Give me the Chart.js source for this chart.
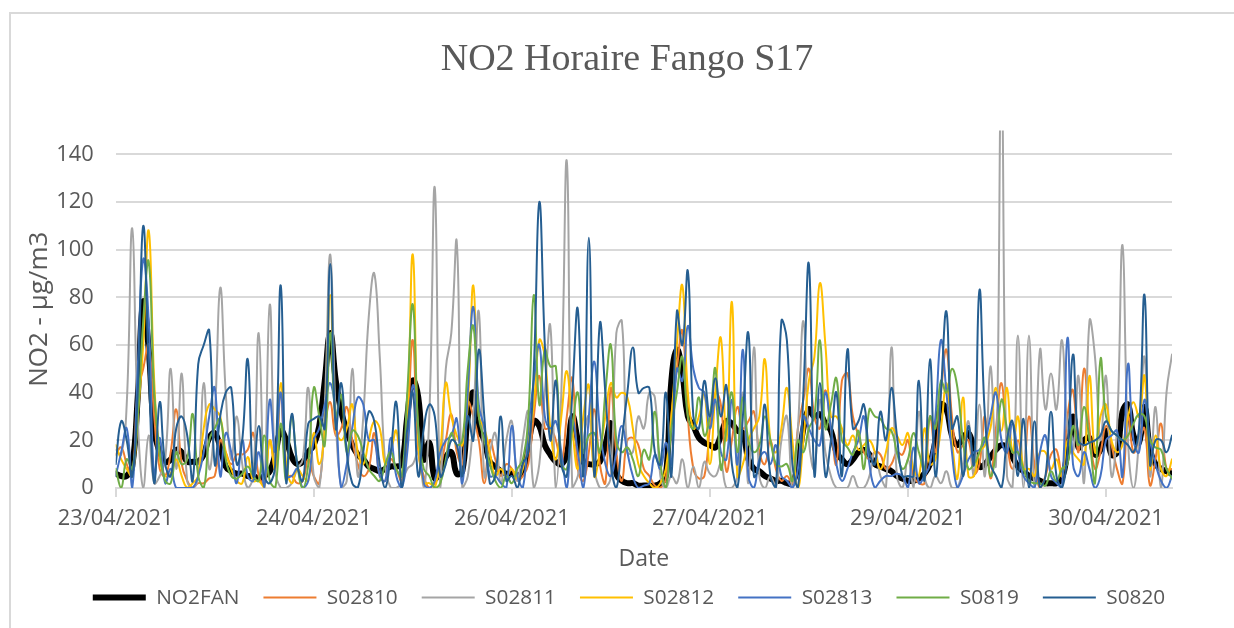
<!DOCTYPE html>
<html><head><meta charset="utf-8">
<style>
html,body{margin:0;padding:0;background:#fff;overflow:hidden}
#wrap{position:absolute;left:0;top:0;width:1234px;height:628px;overflow:hidden}
#frame{position:absolute;left:9px;top:12px;width:1300px;height:700px;border:2px solid #d9d9d9;box-sizing:border-box}
canvas{position:absolute;left:0;top:0}
</style>
<script src="https://cdn.jsdelivr.net/npm/chart.js@4"></script>
</head><body>
<div id="wrap"><div id="frame"></div><canvas id="c" width="1234" height="628"></canvas></div>
<script>
const days = ['23/04/2021','24/04/2021','25/04/2021','26/04/2021','27/04/2021','28/04/2021','29/04/2021','30/04/2021'];
const lastCategory = '01/05/2021 00:00';
const tickEvery = 36;
const yTicks = [0,20,40,60,80,100,120,140];
const NO2FAN = [
6,5,5,9,38,78,58,24,15,11,12,16,
15,11,11,11,14,21,23,17,9,7,6,6,
5,5,4,5,7,14,24,20,13,10,11,15,
18,26,45,65,45,32,24,18,14,12,9,8,
7,8,9,9,10,30,45,38,12,19,4,8,
13,15,6,7,30,40,25,20,11,9,7,6,
6,5,7,18,28,26,18,14,11,10,14,30,
20,11,10,10,11,18,27,6,3,2,2,1,
1,1,1,2,5,45,58,48,30,26,21,19,18,
17,22,28,27,24,23,12,8,7,5,4,3,
3,2,2,10,25,33,30,31,27,24,15,12,
10,12,15,16,14,10,9,8,7,5,4,3,
3,4,6,10,20,35,33,22,18,21,23,16,
9,10,13,16,18,17,13,9,7,5,4,3,
2,2,2,4,15,30,17,20,21,14,16,24,
14,15,32,35,22,19,34,16,10,8,7,6];
const S02810 = [
14,17,10,5,40,50,60,30,8,5,15,33,
10,3,0,2,2,4,5,20,15,10,14,14,
16,23,5,2,20,8,40,5,5,2,3,12,
5,2,25,36,22,25,34,20,10,5,8,23,
5,3,12,8,3,25,62,15,5,0,2,8,
20,31,15,10,36,30,20,2,20,12,5,10,
8,3,5,10,30,47,25,25,20,10,30,46,
8,3,15,33,10,2,42,15,3,20,21,18,
8,5,1,0,4,30,50,66,30,8,4,5,25,
40,35,7,20,34,25,28,32,15,10,20,8,
3,5,2,25,37,50,30,25,41,25,10,45,
48,30,22,15,12,15,14,8,10,15,14,20,
5,2,2,30,15,40,58,30,15,18,20,6,
10,30,4,25,44,20,8,20,8,30,10,0,
5,14,16,5,30,41,15,50,25,8,15,26,
18,8,2,30,15,20,25,1,12,27,8,8];
const S02811 = [
16,14,35,109,30,0,22,2,5,12,50,8,
48,3,0,5,44,8,30,84,40,12,30,10,
0,5,65,2,77,8,0,0,2,8,12,42,
5,0,35,98,30,0,3,50,5,30,72,90,
55,10,0,0,2,8,10,15,0,30,126,0,
50,65,103,0,5,30,74,5,15,23,2,20,
28,3,20,32,0,10,40,68,0,40,137,0,
5,20,30,8,0,0,5,65,70,15,15,30,
25,40,38,5,0,5,2,12,0,9,0,11,6,
5,10,0,0,5,40,2,59,5,0,5,0,
20,30,0,25,70,20,8,37,15,5,0,0,
0,5,0,0,5,15,5,0,59,5,0,12,
0,32,5,0,5,2,7,0,0,10,28,5,
35,5,51,10,175,5,0,64,0,64,0,58,
33,48,33,62,25,15,47,2,70,55,20,47,
5,25,102,20,0,20,55,5,34,0,40,56];
const S02812 = [
18,12,8,5,30,60,108,45,13,5,6,12,
5,0,2,5,25,35,33,30,15,8,3,2,
13,3,3,0,20,8,44,10,2,8,5,3,
23,10,25,81,25,20,25,35,15,10,20,28,
25,10,15,24,5,30,98,20,2,2,0,15,
44,30,22,18,35,85,30,25,15,5,8,5,
8,4,8,20,35,62,55,25,12,30,49,25,
8,30,43,5,15,30,44,38,40,38,25,10,
5,2,0,2,8,30,60,85,40,25,30,40,10,
40,63,20,78,5,10,20,25,30,54,20,15,
25,42,20,0,20,45,55,86,60,30,30,25,
18,22,16,18,20,15,8,15,25,22,18,23,
8,5,25,10,12,25,44,20,4,38,5,5,
15,18,25,42,24,42,15,30,8,8,5,15,
15,8,12,5,20,15,12,10,47,15,30,35,
20,15,18,30,36,30,47,8,22,8,5,12];
const S02813 = [
5,15,25,0,50,96,70,5,21,2,8,0,
0,0,0,5,15,30,42,5,23,15,2,20,
5,3,15,0,37,15,40,5,5,8,0,3,
20,25,35,44,30,0,10,25,38,35,20,20,
5,3,21,5,0,15,43,25,2,0,3,15,
20,22,29,2,40,76,35,25,5,5,2,0,
26,5,0,25,45,60,30,25,28,15,0,28,
15,0,30,53,25,10,5,15,26,15,5,0,
1,2,14,8,19,10,50,45,68,50,42,40,25,
37,15,12,37,10,58,5,0,12,15,10,18,
5,3,0,8,30,25,20,18,40,25,10,3,
8,15,20,30,10,0,3,5,5,6,5,0,
17,2,5,10,30,62,40,15,0,5,12,15,
16,20,30,40,20,15,27,15,5,2,0,15,
22,5,2,0,63,10,5,15,8,0,5,20,
22,24,5,52,20,15,37,20,10,3,0,5];
const S0819 = [
8,0,12,8,30,70,95,40,15,3,2,15,
10,12,31,5,0,20,25,29,12,5,4,6,
9,5,3,22,3,0,27,3,30,10,0,10,
42,30,18,65,30,39,15,24,22,15,8,5,
3,10,15,8,5,40,77,25,8,5,0,2,
12,23,18,20,50,68,30,20,10,3,0,5,
2,8,12,30,81,35,58,51,51,10,8,25,
40,15,22,23,15,40,60,20,15,17,12,5,
16,12,32,10,0,25,40,55,30,25,38,22,30,
50,8,25,40,15,38,20,15,18,30,20,10,
9,10,3,20,15,25,30,62,25,35,46,20,
17,14,24,8,33,30,29,25,24,15,8,12,
23,15,8,30,25,45,40,50,42,20,8,10,
15,21,5,15,37,25,15,15,8,3,2,2,
1,7,3,8,10,26,18,34,20,2,54,30,
24,22,20,22,27,31,30,20,17,16,8,4];
const S0820 = [
10,28,20,5,40,110,50,2,36,10,5,25,
30,22,3,52,60,66,10,30,40,42,10,20,
54,5,26,5,2,10,85,2,31,10,3,27,
29,30,25,94,25,44,15,2,0,15,32,28,
10,0,15,36,0,25,40,5,25,35,30,5,
10,20,18,5,30,20,58,30,2,5,30,3,
5,0,10,15,50,120,60,20,45,10,5,40,
75,5,105,5,69,40,10,0,20,40,59,40,
42,42,15,10,40,5,74,60,91,30,25,45,30,
46,30,43,10,0,30,65,5,10,35,5,0,
70,62,10,0,40,94,5,44,5,20,40,5,
58,25,28,35,15,10,32,20,42,22,5,5,
5,45,3,54,5,40,74,25,30,5,26,10,
83,30,10,5,0,20,28,5,29,0,28,0,
5,32,5,0,15,56,20,18,19,20,22,28,
24,22,20,18,15,25,81,10,20,20,15,22];

const seriesNames = ['NO2FAN','S02810','S02811','S02812','S02813','S0819','S0820'];
const seriesValues = [NO2FAN,S02810,S02811,S02812,S02813,S0819,S0820];
const seriesColors = ['#000000','#ed7d31','#a5a5a5','#ffc000','#4472c4','#70ad47','#255e91'];
const categories = [];
days.forEach(d=>{for(let h=0;h<24;h++)categories.push(d+' '+String(h).padStart(2,'0')+':00');});
categories.push(lastCategory);
const textColor='#595959';
const sans='"Open Sans","Noto Sans",sans-serif';
const shiftBoxes={id:'shiftBoxes',afterLayout(ch){
  ch.legend.left+=33;ch.legend.right+=33;
  ch.titleBlock.left+=31;ch.titleBlock.right+=31;}};
new Chart(document.getElementById('c'),{
 type:'line',
 data:{labels:categories,datasets:seriesNames.map((n,i)=>({
   label:n,data:seriesValues[i],borderColor:seriesColors[i],backgroundColor:seriesColors[i],
   borderWidth:i===0?6:2,borderCapStyle:'round',borderJoinStyle:'round',pointRadius:0,
   tension:0.45,fill:false,clip:0,order:seriesNames.length-i}))},
 plugins:[shiftBoxes],
 options:{responsive:false,animation:false,
  layout:{padding:{left:20,right:62,top:37,bottom:10}},
  plugins:{
   title:{display:true,text:'NO2 Horaire Fango S17',color:textColor,
     font:{family:'"Liberation Serif",serif',size:38,weight:'normal'},padding:{top:0,bottom:48}},
   tooltip:{enabled:false},
   legend:{position:'bottom',labels:{usePointStyle:true,pointStyle:'line',pointStyleWidth:53,boxHeight:8,
     color:textColor,font:{family:sans,size:20.8},padding:24,
     sort:(a,b)=>a.datasetIndex-b.datasetIndex}}
  },
  scales:{
   x:{type:'category',offset:false,
     grid:{drawOnChartArea:false,color:'#d9d9d9',lineWidth:2,tickLength:9,drawTicks:true},
     border:{color:'#d9d9d9',width:2},
     afterBuildTicks(s){s.ticks=s.ticks.filter(t=>t.value%tickEvery===0);},
     ticks:{autoSkip:false,maxRotation:0,minRotation:0,color:textColor,font:{family:sans,size:21.8},padding:9,
       callback(v){return this.getLabelForValue(v).split(' ')[0];}},
     title:{display:true,text:'Date',color:textColor,font:{family:sans,size:23},padding:{top:4.5,bottom:-10}}},
   y:{min:0,max:150,
     grid:{color:'#d9d9d9',lineWidth:2,drawTicks:false},
     border:{display:false},
     afterBuildTicks(s){s.ticks=yTicks.map(v=>({value:v}));},
     afterFit(s){s.width=95.7;},
     ticks:{color:textColor,font:{family:sans,size:21.8},padding:22},
     title:{display:true,text:'NO2 - µg/m3',color:textColor,font:{family:sans,size:26},padding:{bottom:5}}}
  }
 }
});
</script>
</body></html>
